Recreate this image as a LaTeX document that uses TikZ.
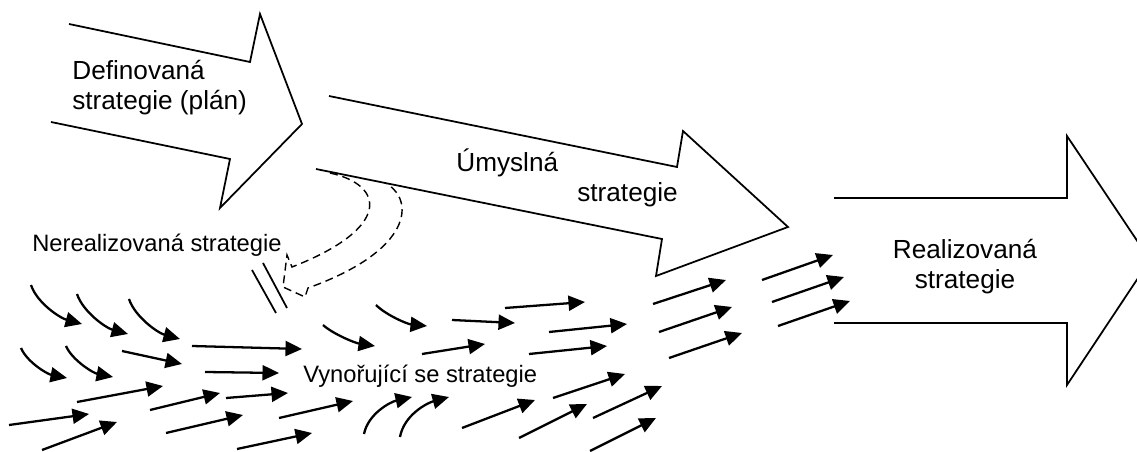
\documentclass[tikz,border=0pt]{standalone}
\usepackage{fontspec}
\setmainfont{Liberation Sans}
\usepackage{tikz}
\usetikzlibrary{arrows.meta}

\tikzset{
  bigtxt/.style={font=\fontsize{14.9}{17.6}\selectfont, inner sep=0pt},
  smalltxt/.style={font=\fontsize{13.5}{16}\selectfont, inner sep=0pt},
  blockarrow/.style={line width=1pt, line join=miter},
  flow/.style={line width=1.3pt, -{Triangle[length=0.33cm,width=0.3cm]}},
  lost/.style={line width=0.8pt, dash pattern=on 4.5pt off 2.8pt},
}

\begin{document}
\begin{tikzpicture}[x=0.02cm, y=-0.02cm]
    \clip (0,0) rectangle (1137,452);

    % the three big arrows
    \draw[blockarrow] (69,24) -- (250,62) -- (260,14) -- (302,124) -- (220,208) -- (230,159) -- (51,122);
    \draw[blockarrow] (329,96) -- (677,167) -- (683,131) -- (788,227) -- (656,276) -- (662,239) -- (316,169);
    \draw[blockarrow] (834,198) -- (1067,198) -- (1067,136) -- (1150,260) -- (1067,385) -- (1067,323) -- (834,323);

    \node[bigtxt, anchor=base west, align=left] (defin) at (72,110) {Definovaná\\strategie (plán)};
    \node[bigtxt, anchor=base west] (umysl) at (456,172) {Úmyslná};
    \node[bigtxt, anchor=base west] (umyslb) at (577,202) {strategie};
    \node[bigtxt, anchor=base, align=center] (real) at (965,289) {Realizovaná\\strategie};
    \node[smalltxt, anchor=base west] (nereal) at (32,252) {Nerealizovaná strategie};
    \node[smalltxt, anchor=base west] (vynor) at (303,383) {Vynořující se strategie};

    % dropped part of the plan
    \draw[lost] (330,173) .. controls (385,185) and (392,228) .. (292,267) -- (287,255) -- (283,287)
        -- (305,297) -- (308,288) .. controls (414,250) and (414,200) .. (387,184);
    \draw[line width=1pt] (252,270) -- (276,313);
    \draw[line width=1pt] (263,263) -- (287,308);

    % small emerging arrows
    \foreach \xa/\ya/\xb/\yb in {31/285/82/324, 77/294/128/334, 129/299/180/339}
        \draw[flow] (\xa,\ya) .. controls +(6,18) and +(-22,-6) .. (\xb,\yb);
    \foreach \xa/\ya/\xb/\yb in {21/348/67/378, 66/346/113/377}
        \draw[flow] (\xa,\ya) .. controls +(6,14) and +(-20,-4) .. (\xb,\yb);
    \draw[flow] (323,325) .. controls +(10,9) and +(-20,-3) .. (375,346);
    \draw[flow] (376,305) .. controls +(10,10) and +(-20,-2) .. (427,326);
    \draw[flow] (364,434) .. controls +(4,-20) and +(-22,5) .. (412,397);
    \draw[flow] (400,437) .. controls +(4,-22) and +(-22,6) .. (449,397);

    \foreach \xa/\ya/\xb/\yb in {192/346/302/349, 122/351/182/364, 205/372/279/373,
        77/402/163/386, 150/410/220/393, 226/398/288/393, 9/425/89/414, 42/450/117/422,
        166/433/243/415, 279/418/353/401, 237/449/312/433, 452/320/515/323, 505/308/585/302,
        422/354/485/344, 549/332/627/324, 529/354/607/346, 462/428/535/400, 553/398/625/374,
        519/438/587/404, 593/418/662/386, 590/451/656/418, 653/304/726/280, 659/332/732/307,
        669/358/742/333, 762/280/833/255, 772/302/844/277, 778/326/850/301}
        \draw[flow] (\xa,\ya) -- (\xb,\yb);
\end{tikzpicture}
\end{document}
